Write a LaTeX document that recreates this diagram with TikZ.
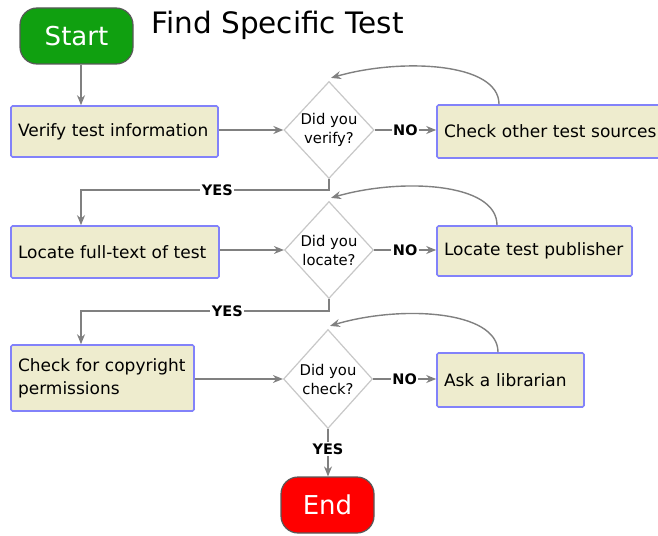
\documentclass[tikz,border=0pt]{standalone}
\usepackage{fontspec}
\setmainfont{DejaVu Sans}
\usetikzlibrary{shapes.geometric,arrows.meta,calc}
\definecolor{boxfill}{RGB}{238,236,206}
\definecolor{boxline}{RGB}{130,130,250}
\definecolor{linkgray}{RGB}{128,128,128}
\definecolor{diagray}{RGB}{200,200,200}
\definecolor{startgreen}{RGB}{16,160,16}
\definecolor{endred}{RGB}{255,0,0}
\tikzset{
  stepbox/.style={draw=boxline, line width=1.6pt, fill=boxfill, rectangle, rounded corners=1.5pt, inner xsep=7pt, inner ysep=0pt, align=left, anchor=center, font=\fontsize{17}{23}\selectfont},
  decide/.style={draw=diagray, line width=1.2pt, fill=white, shape=diamond, inner sep=0pt, minimum width=89pt, minimum height=97pt, align=center, font=\fontsize{14.8}{19}\selectfont},
  terminal/.style={rounded corners=17pt, draw=black!65, line width=1.2pt, minimum width=113pt, minimum height=56pt, text=white, font=\fontsize{26}{30}\selectfont},
  conn/.style={draw=linkgray, line width=1.4pt, -{Stealth[length=10pt,width=8pt]}},
  lbl/.style={fill=white, inner sep=1.5pt, font=\bfseries\fontsize{14.5}{16}\selectfont}
}
\begin{document}
\begin{tikzpicture}[x=1pt,y=-1pt]
\useasboundingbox (0,0) rectangle (658,535);
% terminals
\node[terminal, fill=startgreen] (start) at (76.5,36) {Start};
\node[terminal, fill=endred, minimum width=93pt] (end) at (327.5,505) {End};
\node[anchor=west, font=\fontsize{29.5}{34}\selectfont] (title) at (148,25) {Find Specific Test};
% boxes
\node[stepbox, minimum width=207pt, minimum height=51pt, text width=193pt] (verify) at (114.5,131.5) {Verify test information};
\node[stepbox, minimum width=208pt, minimum height=52pt, text width=194pt] (locate) at (115,252) {Locate full-text of test};
\node[stepbox, minimum width=183pt, minimum height=66pt, text width=169pt] (copy) at (102.5,378) {Check for copyright\\permissions};
\node[stepbox, minimum width=254pt, minimum height=53pt, text width=240pt] (other) at (564,131.5) {Check other test sources};
\node[stepbox, minimum width=195pt, minimum height=50pt, text width=181pt] (pub) at (534.5,251) {Locate test publisher};
\node[stepbox, minimum width=147pt, minimum height=54pt, text width=133pt] (lib) at (510.5,380) {Ask a librarian};
% decisions
\node[decide] (d1) at (329,130) {Did you\\verify?};
\node[decide] (d2) at (329,250) {Did you\\locate?};
\node[decide, minimum height=99pt] (d3) at (328,379) {Did you\\check?};
% helper coordinates
\coordinate (xl) at (81,0);
\coordinate (xr1) at (499,0);
\coordinate (xr2) at (497,0);
\coordinate (xr3) at (498,0);
% start to verify
\draw[conn] (start.south -| xl) -- (verify.north -| xl);
% box to decision
\draw[conn] (verify.east |- d1.west) -- (d1.west);
\draw[conn] (locate.east |- d2.west) -- (d2.west);
\draw[conn] (copy.east |- d3.west) -- (d3.west);
% NO branches
\draw[conn] (d1.east) -- node[lbl] {NO} (other.west |- d1.east);
\draw[conn] (d2.east) -- node[lbl] {NO} (pub.west |- d2.east);
\draw[conn] (d3.east) -- node[lbl] {NO} (lib.west |- d3.east);
% loops back
\draw[conn] (other.north -| xr1) .. controls (499,62) and (400,58) .. ($(d1.north)+(2,-3)$);
\draw[conn] (pub.north -| xr2) .. controls (497,182) and (400,178) .. ($(d2.north)+(2,-3)$);
\draw[conn] (lib.north -| xr3) .. controls (498,310) and (400,305) .. ($(d3.north)+(2,-3)$);
% YES branches
\coordinate (y1) at (0,190);
\coordinate (y2) at (0,311);
\draw[conn] (d1.south) -- (d1.south |- y1) -- node[lbl, pos=0.45] {YES} (xl |- y1) -- (locate.north -| xl);
\draw[conn] (d2.south) -- (d2.south |- y2) -- node[lbl, pos=0.41] {YES} (xl |- y2) -- (copy.north -| xl);
\draw[conn] (d3.south) -- node[lbl, pos=0.42] {YES} (end.north -| d3.south);
\end{tikzpicture}
\end{document}
